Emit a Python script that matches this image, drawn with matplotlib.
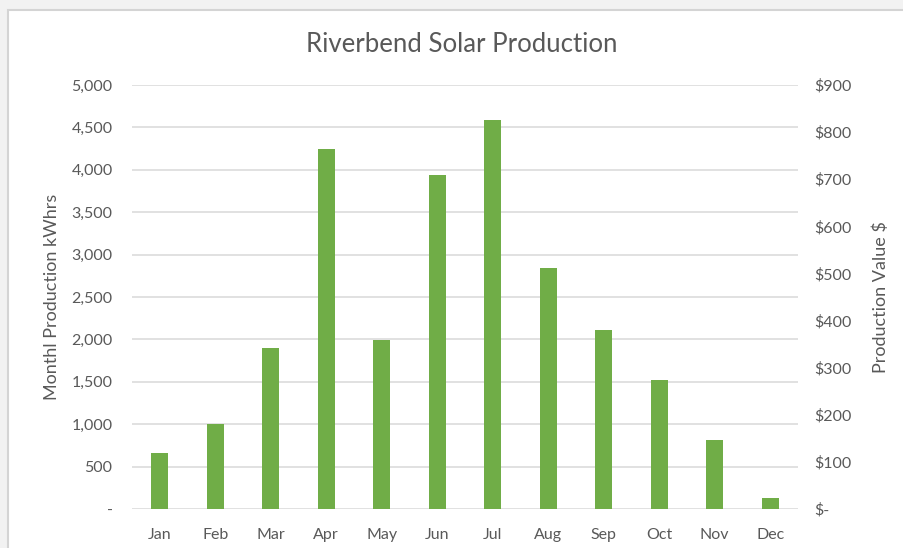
import matplotlib.pyplot as plt
from matplotlib.patches import Rectangle
from matplotlib.ticker import FuncFormatter, MultipleLocator

# Monthly production
months = ['Jan', 'Feb', 'Mar', 'Apr', 'May', 'Jun',
          'Jul', 'Aug', 'Sep', 'Oct', 'Nov', 'Dec']
production_kwh = [665, 1000, 1895, 4250, 1990, 3940,
                  4590, 2840, 2115, 1520, 815, 134]

plt.rcParams['font.family'] = ['Lato', 'DejaVu Sans']
text_col = '#595959'
grid_col = '#D9D9D9'
bar_col = '#70AD47'

fig = plt.figure(figsize=(9.04, 5.48), dpi=100, facecolor='#F2F2F2')

# white chart area with a light border, as in the Excel screenshot
bg = fig.add_axes([0, 0, 1, 1], zorder=-5)
bg.set_axis_off()
bg.set_xlim(0, 904)
bg.set_ylim(548, 0)
bg.add_patch(Rectangle((8.5, 9.5), 1000, 1000, facecolor='white',
                       edgecolor='#D4D4D4', linewidth=1.5))

ax = fig.add_axes([132 / 904, 39 / 548, 666 / 904, 424 / 548])
ax.set_facecolor('none')

x = range(len(months))
ax.bar(x, production_kwh, width=0.31, color=bar_col, zorder=3)

ax.set_xlim(-0.5, len(months) - 0.5)
ax.set_ylim(0, 5000)
ax.yaxis.set_major_locator(MultipleLocator(500))
ax.yaxis.set_major_formatter(FuncFormatter(lambda v, p: '-' if v == 0 else f'{v:,.0f}'))
ax.set_xticks(list(x))
ax.set_xticklabels(months)
ax.grid(axis='y', color=grid_col, linewidth=1.1, zorder=0)
for s in ax.spines.values():
    s.set_visible(False)
ax.tick_params(axis='y', length=0, pad=14, labelsize=11.5, labelcolor=text_col)
ax.tick_params(axis='x', length=0, pad=14, labelsize=11.5, labelcolor=text_col)
ax.set_ylabel('Monthl Production kWhrs', fontsize=13, color=text_col, labelpad=8)

ax2 = ax.twinx()
ax2.set_ylim(0, 900)
ax2.yaxis.set_major_locator(MultipleLocator(100))
ax2.yaxis.set_major_formatter(FuncFormatter(lambda v, p: '$-' if v == 0 else f'${v:,.0f}'))
for s in ax2.spines.values():
    s.set_visible(False)
ax2.tick_params(axis='y', length=0, pad=12, labelsize=11.5, labelcolor=text_col)
ax2.set_ylabel('Production Value $', fontsize=13, color=text_col, labelpad=14.5)

fig.text(462 / 904, 1 - 44 / 548, 'Riverbend Solar Production',
         ha='center', va='center', fontsize=18.5, color=text_col)

fig.savefig('out.png', dpi=100, facecolor=fig.get_facecolor())
